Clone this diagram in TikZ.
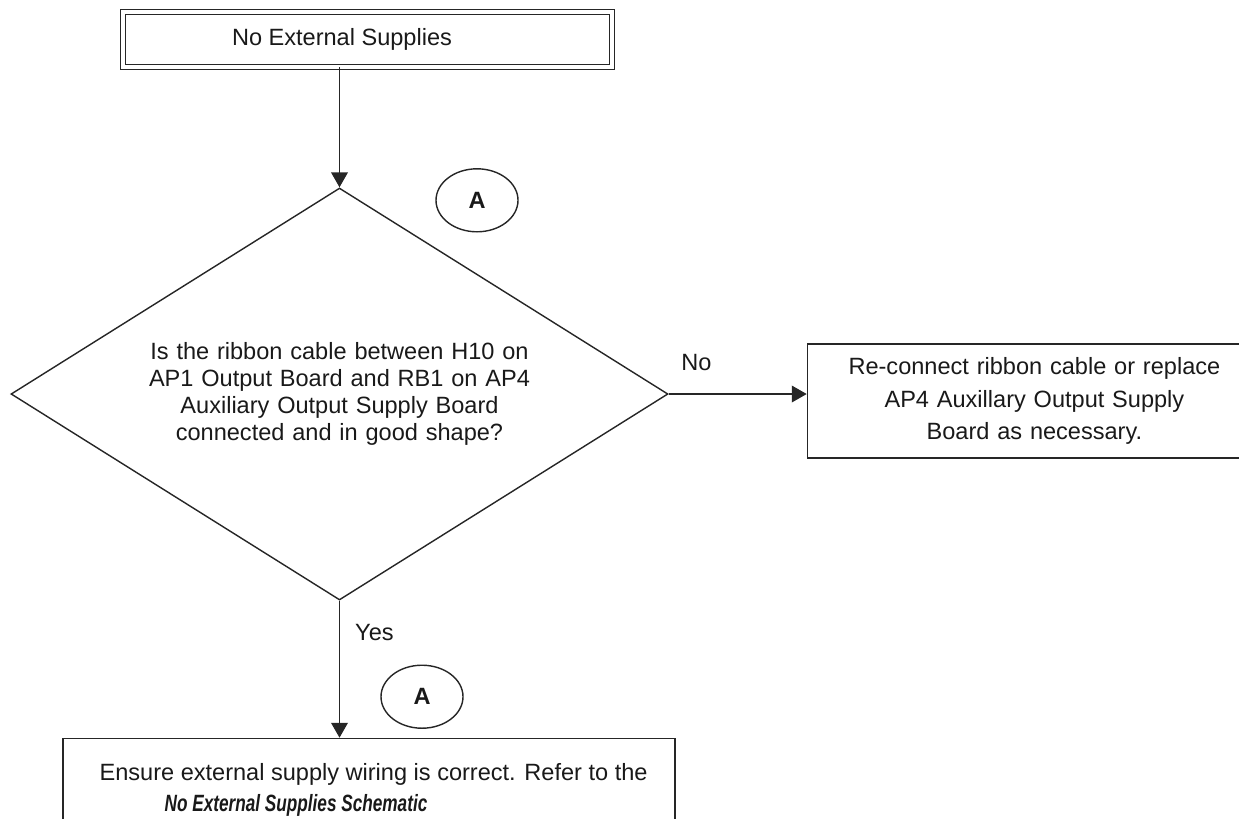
\documentclass[tikz,border=0pt]{standalone}
\usepackage{fontspec}
\setmainfont{Liberation Sans}
\newfontfamily\narrowsans[FakeStretch=0.73]{Liberation Sans}
\usetikzlibrary{shapes.geometric, arrows.meta, positioning}

\begin{document}
\begin{tikzpicture}[
    % Distancias entre nodos
    node distance=2.4cm and 2.76cm,
    % Estilos de cajas, textos y flechas
    every node/.style={font=\fontsize{13.4}{15.5}\selectfont, text=black!90},
    startbox/.style={rectangle, draw=black!85, double, double distance=2.2pt, line width=0.6pt, minimum width=9.78cm, minimum height=1.1cm},
    decision/.style={diamond, draw=black!85, line width=0.8pt, minimum width=13.14cm, minimum height=8.24cm, aspect=1.6, inner sep=0pt, text width=7.7cm, align=center},
    process/.style={rectangle, draw=black!85, line width=0.8pt, inner sep=0pt},
    connector/.style={ellipse, draw=black!85, line width=0.8pt, minimum width=1.64cm, minimum height=1.26cm, inner sep=0pt, font=\fontsize{13.4}{15.5}\selectfont\bfseries},
    labeltext/.style={inner sep=0pt},
    arrow/.style={line width=0.8pt, draw=black!85, -{Triangle[length=8.5pt, width=9.5pt]}}
    ]

    \path[use as bounding box] (0,0) rectangle (24.78,-16.36);
    \clip (0,0) rectangle (24.78,-16.36);

    % Nodos
    \node (dec) [decision] at (6.79,-7.88) {Is the ribbon cable between H10 on\\ AP1 Output Board and RB1 on AP4\\ Auxiliary Output Supply Board\\ connected and in good shape?};
    \node (start) [startbox, above=of dec, xshift=0.56cm] {};
    \node (starttxt) [labeltext] at ([xshift=0.05cm]start.center -| dec.north) {No External Supplies};
    \node (reconnect) [process, right=of dec, yshift=-0.14cm, text width=7.5cm, align=center, minimum width=9.08cm, minimum height=2.28cm, font=\fontsize{13.4}{18.7}\selectfont] {Re-connect ribbon cable or replace\\ AP4 Auxillary Output Supply\\ Board as necessary.};
    \node (ensure) [process, below=2.74cm of dec, xshift=0.59cm, minimum width=12.24cm, minimum height=2.6cm] {};
    \node (ensuretxt) [labeltext, anchor=north west, align=left, font=\fontsize{13.4}{17.6}\selectfont] at ([xshift=0.74cm, yshift=-0.51cm]ensure.north west) {Ensure external supply wiring is correct. Refer to the\\ \hspace*{1.3cm}{\narrowsans\bfseries\itshape No External Supplies Schematic}};
    \node (conntop) [connector] at ([xshift=2.75cm, yshift=-0.26cm]dec.north) {A};
    \node (connbot) [connector] at ([xshift=1.65cm, yshift=-1.92cm]dec.south) {A};

    % Conexiones
    \draw [arrow] (start.south -| dec.north) -- (dec.north);
    \draw [arrow] (dec.east) -- node[labeltext, pos=0.2, above=0.46cm] (nolbl) {No} (dec.east -| reconnect.west);
    \draw [arrow] (dec.south) -- node[labeltext, pos=0.23, right=0.3cm] (yeslbl) {Yes} (dec.south |- ensure.north);

\end{tikzpicture}
\end{document}
